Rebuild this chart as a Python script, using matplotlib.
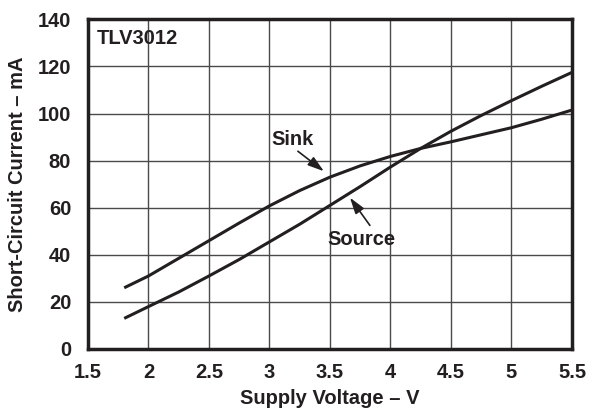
import matplotlib
matplotlib.use("Agg")
import matplotlib.pyplot as plt

plt.rcParams['font.family'] = ['Liberation Sans', 'DejaVu Sans']
plt.rcParams['font.weight'] = 'bold'

voltage = [1.8, 2.0, 2.25, 2.5, 2.75, 3.0, 3.25, 3.5, 3.75, 4.0, 4.25, 4.5, 4.75, 5.0, 5.25, 5.5]
sink = [26, 31, 38.5, 46, 53.5, 60.8, 67.3, 73, 77.8, 81.8, 85.2, 88, 91, 94, 97.6, 101.5]
source = [13, 18, 24.2, 31, 38, 45.5, 53, 61, 69, 77.3, 85.2, 92.5, 99.2, 105.5, 111.6, 117.5]
xticks = [1.5, 2, 2.5, 3, 3.5, 4, 4.5, 5, 5.5]
xticklabels = ['1.5', '2', '2.5', '3', '3.5', '4', '4.5', '5', '5.5']
yticks = [0, 20, 40, 60, 80, 100, 120, 140]

fig = plt.figure(figsize=(5.9, 4.13), dpi=100)
ax = fig.add_axes([0.149, 0.155, 0.8205, 0.798])

ink = '#231f20'
ax.plot(voltage, sink, color=ink, lw=2.2, solid_capstyle='butt', solid_joinstyle='round', zorder=3)
ax.plot(voltage, source, color=ink, lw=2.2, solid_capstyle='butt', solid_joinstyle='round', zorder=3)

ax.set_xlim(1.5, 5.5)
ax.set_ylim(0, 140)
ax.set_xticks(xticks)
ax.set_xticklabels(xticklabels)
ax.set_yticks(yticks)
ax.tick_params(length=0, labelsize=14.5, colors=ink)
ax.tick_params(axis='x', pad=10)
ax.tick_params(axis='y', pad=12)
for lab in ax.get_xticklabels() + ax.get_yticklabels():
    lab.set_fontweight('bold')

ax.grid(True, color='#4a4a4a', lw=1.0)
ax.set_axisbelow(True)
for sp in ax.spines.values():
    sp.set_linewidth(2.5)
    sp.set_color(ink)

ax.set_xlabel('Supply Voltage – V', fontsize=14.5, fontweight='bold', color=ink, labelpad=5)
ax.set_ylabel('Short-Circuit Current – mA', fontsize=14.5, fontweight='bold', color=ink, labelpad=8)

ax.text(0.019, 0.941, 'TLV3012', transform=ax.transAxes, fontsize=14.5, fontweight='bold',
        color=ink, ha='left', va='center')

ax.text(3.19, 88.8, 'Sink', fontsize=14.5, fontweight='bold', color=ink, ha='center', va='center')
ax.text(3.76, 46.5, 'Source', fontsize=14.5, fontweight='bold', color=ink, ha='center', va='center')

astyle = dict(arrowstyle='-|>,head_length=0.7,head_width=0.22', color=ink, lw=1.2,
              mutation_scale=14, shrinkA=0, shrinkB=0)
ax.annotate('', xy=(3.45, 75.5), xytext=(3.235, 84), arrowprops=astyle)
ax.annotate('', xy=(3.665, 64.3), xytext=(3.83, 52.5), arrowprops=astyle)

fig.savefig('out.png', dpi=100)
